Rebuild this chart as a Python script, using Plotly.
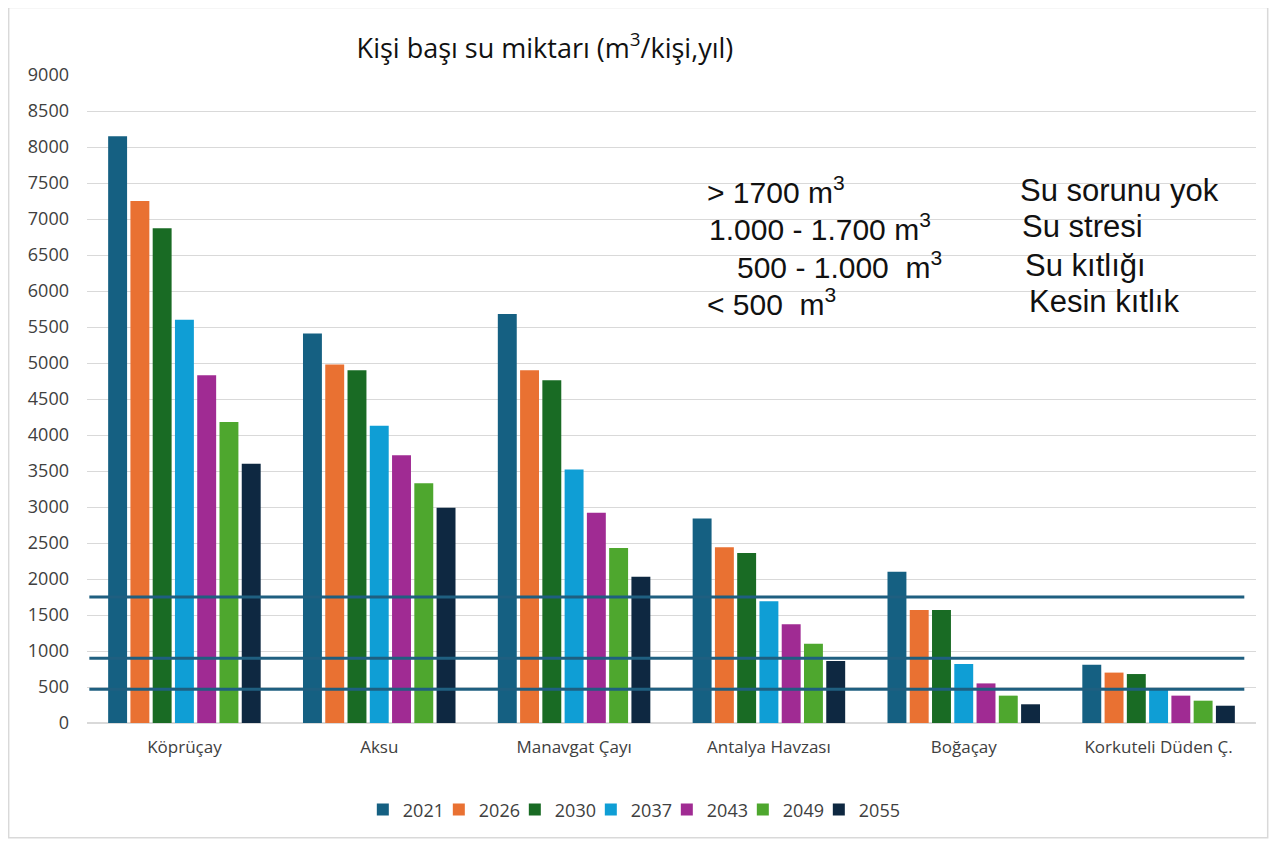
import plotly.graph_objects as go

basins = ["Köprüçay", "Aksu", "Manavgat Çayı", "Antalya Havzası", "Boğaçay", "Korkuteli Düden Ç."]
years = ["2021", "2026", "2030", "2037", "2043", "2049", "2055"]

# m3 per person per year, one list per projection year
v2021 = [8150, 5410, 5680, 2840, 2100, 810]
v2026 = [7250, 4980, 4900, 2440, 1570, 700]
v2030 = [6870, 4900, 4760, 2360, 1570, 680]
v2037 = [5600, 4130, 3520, 1690, 820, 480]
v2043 = [4830, 3720, 2920, 1370, 550, 380]
v2049 = [4180, 3330, 2430, 1100, 380, 310]
v2055 = [3600, 2990, 2030, 860, 260, 240]
series = [v2021, v2026, v2030, v2037, v2043, v2049, v2055]

colors = ["#156082", "#E97132", "#196B24", "#0F9ED5", "#A02B93", "#4EA72E", "#0E2841"]

# hand-drawn threshold lines on the original
thresholds = [1750, 900, 470]

class_left = ["> 1700 m<sup>3</sup>", "1.000 - 1.700 m<sup>3</sup>",
              "500 - 1.000  m<sup>3</sup>", "< 500  m<sup>3</sup>"]
class_right = ["Su sorunu yok", "Su stresi", "Su kıtlığı", "Kesin kıtlık"]
class_y = [7400, 6890, 6360, 5850]
left_x = [0.529, 0.530, 0.554, 0.529]
right_x = [0.796, 0.798, 0.801, 0.804]

tickfont = dict(family="Open Sans, sans-serif", size=17, color="#404040")

fig = go.Figure()
for yr, vals, c in zip(years, series, colors):
    fig.add_trace(go.Bar(x=basins, y=vals, name=yr, marker_color=c, marker_line_width=0))

# empty legend slot so the last entry is not clipped by the fixed entry width
fig.add_trace(go.Scatter(x=[None], y=[None], name=" ", mode="markers",
                         marker=dict(color="rgba(0,0,0,0)", size=1), hoverinfo="skip"))

for t in thresholds:
    fig.add_shape(type="line", xref="paper", yref="y", x0=0.002, x1=0.99, y0=t, y1=t,
                  line=dict(color="#1F5F80", width=3))

# outer frame like the spreadsheet chart area
fig.add_shape(type="rect", xref="paper", yref="paper", x0=-0.067, x1=1.010, y0=-0.177, y1=1.104,
              line=dict(color="#d9d9d9", width=1.5), layer="below")

annots = []
for txt, xv, yv in zip(class_left, left_x, class_y):
    annots.append(dict(text=txt, x=xv, y=yv, xref="paper", yref="y", xanchor="left",
                       showarrow=False, font=dict(family="Liberation Sans, Arial", size=30, color="#111")))
for txt, xv, yv in zip(class_right, right_x, class_y):
    annots.append(dict(text=txt, x=xv, y=yv, xref="paper", yref="y", xanchor="left",
                       showarrow=False, font=dict(family="Liberation Sans, Arial", size=31, color="#111")))

fig.update_layout(
    width=1280, height=841,
    paper_bgcolor="white", plot_bgcolor="white",
    margin=dict(l=79, r=32, t=67, b=126),
    barmode="group", bargap=0.2, bargroupgap=0.15,
    title=dict(text="Kişi başı su miktarı (m<sup>3</sup>/kişi,yıl)", x=0.4195, xanchor="center",
               y=0.952, yanchor="middle", font=dict(family="Open Sans, sans-serif", size=27, color="#111")),
    xaxis=dict(showgrid=False, showline=False, ticks="", ticklabelstandoff=12, tickfont=tickfont),
    yaxis=dict(range=[0, 9000], dtick=500, showgrid=True, gridcolor="#d9d9d9", gridwidth=1,
               zeroline=True, zerolinecolor="#d9d9d9", ticks="", ticklabelstandoff=17,
               tickfont=dict(family="Open Sans, sans-serif", size=18, color="#404040")),
    legend=dict(orientation="h", x=0.496, xanchor="center", y=-0.134, yanchor="middle",
                font=dict(family="Open Sans, sans-serif", size=18, color="#404040"), itemwidth=30,
                entrywidth=31, traceorder="normal"),
    annotations=annots,
)

fig.write_html("out.html")
